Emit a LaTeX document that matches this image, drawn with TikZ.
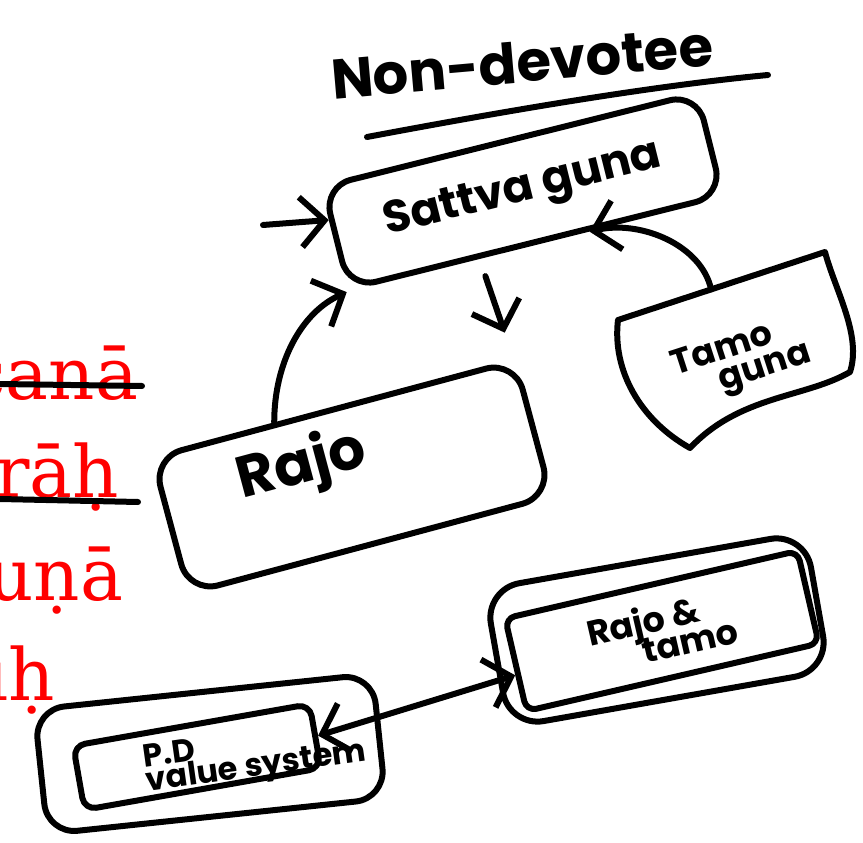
\documentclass[tikz,border=0pt]{standalone}
\usepackage{fontspec}
\newfontfamily\hand{Poppins}
\newfontfamily\redserif{DejaVu Serif}
\usetikzlibrary{calc,arrows.meta}

\begin{document}
\begin{tikzpicture}[x=1pt, y=-1pt, line width=6pt, line cap=round, line join=round,
  >={Straight Barb[length=24pt,width=50pt]},
  box/.style={draw, rounded corners=#1, inner sep=0pt},
  box/.default=25pt,
  scrawl/.style={font=\hand\bfseries\fontsize{#1}{#1}\selectfont, inner sep=0pt},
  verse/.style={font=\redserif\fontsize{72}{72}\selectfont, text=red, inner sep=0pt, anchor=base east}]
\useasboundingbox (0,0) rectangle (863,843);

% Title
\node[scrawl=56, rotate=5] (title) at (522,62) {Non-devotee};
\draw (367,137) .. controls (500,112) and (650,86) .. (768,75);

% Sattva and Rajo
\node[box=28pt, minimum width=385pt, minimum height=105pt, rotate=14, scrawl=45] (sattva) at (523,191) {Sattva guna};
\node[box=30pt, minimum width=375pt, minimum height=140pt, rotate=15] (rajo) at (352,477) {};
\node[scrawl=58, rotate=15] (rajotext) at (302,467) {Rajo};

% Tamo guna (odd shape)
\coordinate (tamo nw) at (618,320);
\coordinate (tamo ne) at (825,252);
\coordinate (tamo se) at (850,372);
\coordinate (tamo sw) at (690,448);
\draw (tamo nw) -- (tamo ne) .. controls (835,290) and (862,335) .. (tamo se)
  .. controls (805,398) and (740,395) .. (tamo sw)
  .. controls (640,420) and (612,370) .. (tamo nw);
\node[scrawl=35, rotate=18, align=left] (tamo) at (742,361) {Tamo\\[-6pt]\hspace*{40pt}guna};
\coordinate (tamo top) at ($(tamo nw)!0.45!(tamo ne)$);

% Rajo & tamo
\node[box=35pt, minimum width=325pt, minimum height=140pt, rotate=10] (rtout) at (657,630) {};
\node[box=10pt, minimum width=300pt, minimum height=95pt, rotate=13, scrawl=35, align=left] (rtin) at (662,631) {Rajo \&\\[-6pt]\hspace*{50pt}tamo};

% P.D value system
\node[box=30pt, minimum width=340pt, minimum height=125pt, rotate=6] (pdout) at (210,754) {};
\node[box=12pt, minimum width=240pt, minimum height=65pt, rotate=10] (pdin) at (197,757) {};
\node[scrawl=32, rotate=8, align=left] (pdtext) at (255,757) {P.D\\[-8pt]value system};

% Connectors
\coordinate (entry) at (263,225);
\draw[->] (entry) -- ($(sattva.north west)!0.33!(sattva.south west)$);
\draw[->] ($(rajo.north west)!0.34!(rajo.north east)$) .. controls +(0,-60) and +(-45,20) .. (sattva.south west);
\draw[->, shorten <=18pt, shorten >=27pt] ($(sattva.south west)!0.35!(sattva.south east)$) -- ($(rajo.north west)!0.99!(rajo.north east)$);
\draw[->] (tamo top) .. controls +(-10,-45) and +(50,-12) .. ($(sattva.south west)!0.64!(sattva.south east)$);
\draw[<->] (pdin.east) -- ($(rtin.north west)!0.6!(rtin.south west)$);

% Red verse fragments
\node[verse] (verse1) at (141,399) {canā};
\node[verse] (verse2) at (122,497) {rāḥ};
\node[verse] (verse3) at (126,600) {uṇā};
\node[verse] (verse4) at (58,700) {iḥ};
\draw (0,384) -- (142,386);
\draw (0,499) -- (138,502);
\end{tikzpicture}
\end{document}
